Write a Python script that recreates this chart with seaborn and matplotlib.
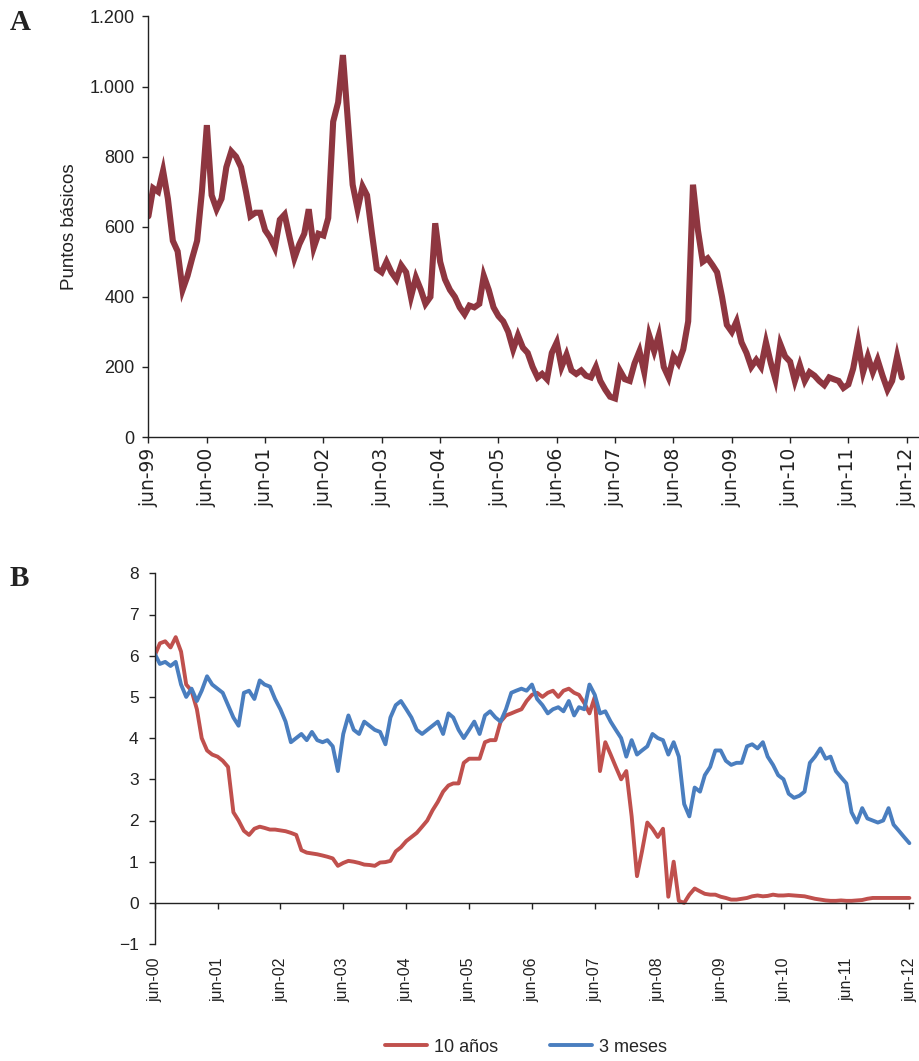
import matplotlib
matplotlib.use("Agg")
import matplotlib.pyplot as plt
import numpy as np
import pandas as pd
import seaborn as sns

# ---------------- Panel A: diferencial en puntos básicos (mensual, jun-99 a may-12)
inicio_a = "1999-06-01"
diferencial_pb = [
    630, 710, 700, 760, 680, 560, 530, 420, 460, 510, 560, 700,
    890, 690, 650, 680, 770, 815, 800, 770, 700, 630, 640, 640,
    590, 570, 540, 620, 635, 570, 510, 550, 580, 650, 540, 580,
    575, 625, 900, 955, 1090, 900, 720, 650, 715, 690, 580, 480,
    470, 500, 470, 450, 490, 470, 400, 455, 420, 380, 400, 610,
    500, 450, 420, 400, 370, 350, 375, 370, 380, 460, 420, 370,
    345, 330, 300, 250, 290, 255, 240, 200, 170, 180, 165, 240,
    270, 200, 235, 190, 180, 190, 175, 170, 200, 160, 135, 115,
    110, 190, 165, 160, 210, 245, 185, 290, 245, 290, 200, 170,
    230, 210, 250, 330, 720, 590, 500, 510, 490, 470, 400, 320,
    300, 330, 270, 240, 200, 220, 200, 270, 210, 165, 265, 230,
    215, 160, 205, 160, 185, 175, 160, 148, 170, 165, 160, 140,
    150, 195, 270, 185, 230, 185, 220, 175, 135, 160, 230, 170,
]
anios_a = list(range(1999, 2013))

# ---------------- Panel B: tasas en % (mensual, jun-00 a jun-12)
inicio_b = "2000-06-01"
tasa_10_anios = [
    6.0, 6.3, 6.35, 6.2, 6.45, 6.1, 5.3, 5.15, 4.7, 4.0, 3.7, 3.6,
    3.55, 3.45, 3.3, 2.2, 2.0, 1.75, 1.65, 1.8, 1.85, 1.82, 1.78, 1.78,
    1.76, 1.74, 1.7, 1.65, 1.28, 1.22, 1.2, 1.18, 1.15, 1.12, 1.08, 0.9,
    0.97, 1.02, 1.0, 0.97, 0.93, 0.92, 0.9, 0.98, 0.99, 1.02, 1.25, 1.35,
    1.5, 1.6, 1.7, 1.85, 2.0, 2.25, 2.45, 2.7, 2.85, 2.9, 2.9, 3.4,
    3.5, 3.5, 3.5, 3.9, 3.95, 3.95, 4.4, 4.55, 4.6, 4.65, 4.7, 4.9,
    5.05, 5.1, 5.0, 5.1, 5.15, 5.0, 5.15, 5.2, 5.1, 5.05, 4.85, 4.6,
    5.0, 3.2, 3.9, 3.6, 3.3, 3.0, 3.2, 2.1, 0.65, 1.25, 1.95, 1.8,
    1.6, 1.8, 0.15, 1.0, 0.05, 0.0, 0.2, 0.35, 0.28, 0.22, 0.2, 0.2,
    0.15, 0.12, 0.08, 0.08, 0.1, 0.12, 0.16, 0.18, 0.16, 0.17, 0.2, 0.18,
    0.18, 0.19, 0.18, 0.17, 0.16, 0.13, 0.1, 0.08, 0.06, 0.05, 0.05, 0.06,
    0.05, 0.05, 0.06, 0.07, 0.1, 0.12, 0.12, 0.12, 0.12, 0.12, 0.12, 0.12,
    0.12,
]
tasa_3_meses = [
    6.05, 5.8, 5.85, 5.75, 5.85, 5.3, 5.0, 5.2, 4.9, 5.15, 5.5, 5.3,
    5.2, 5.1, 4.8, 4.5, 4.3, 5.1, 5.15, 4.95, 5.4, 5.3, 5.25, 4.95,
    4.7, 4.4, 3.9, 4.0, 4.1, 3.95, 4.15, 3.95, 3.9, 3.95, 3.8, 3.2,
    4.1, 4.55, 4.2, 4.1, 4.4, 4.3, 4.2, 4.15, 3.85, 4.5, 4.8, 4.9,
    4.7, 4.5, 4.2, 4.1, 4.2, 4.3, 4.4, 4.1, 4.6, 4.5, 4.2, 4.0,
    4.2, 4.4, 4.1, 4.55, 4.65, 4.5, 4.4, 4.7, 5.1, 5.15, 5.2, 5.15,
    5.3, 4.95, 4.8, 4.6, 4.7, 4.75, 4.65, 4.9, 4.55, 4.75, 4.7, 5.3,
    5.05, 4.6, 4.65, 4.4, 4.2, 4.0, 3.55, 3.95, 3.6, 3.7, 3.8, 4.1,
    4.0, 3.95, 3.6, 3.9, 3.55, 2.4, 2.1, 2.8, 2.7, 3.1, 3.3, 3.7,
    3.7, 3.45, 3.35, 3.4, 3.4, 3.8, 3.85, 3.75, 3.9, 3.55, 3.35, 3.1,
    3.0, 2.65, 2.55, 2.6, 2.7, 3.4, 3.55, 3.75, 3.5, 3.55, 3.2, 3.05,
    2.9, 2.2, 1.95, 2.3, 2.05, 2.0, 1.95, 2.0, 2.3, 1.9, 1.75, 1.6,
    1.45,
]
anios_b = list(range(2000, 2013))
series_b = ["10 años", "3 meses"]
colores_b = ["#C0504D", "#4A7EBF"]

# ---------------- estilo
sns.set_theme(style="white")
plt.rcParams["font.family"] = ["Liberation Sans", "DejaVu Sans"]
plt.rcParams["axes.edgecolor"] = "#222222"
plt.rcParams["axes.linewidth"] = 1.0

W, H = 920, 1061
fig = plt.figure(figsize=(W / 100, H / 100), dpi=100)

def frac(x0, y0, x1, y1):
    return [x0 / W, 1 - y1 / H, (x1 - x0) / W, (y1 - y0) / H]

ax_a = fig.add_axes(frac(148.4, 16.5, 918, 437))
ax_b = fig.add_axes(frac(154.7, 573.3, 913, 944.1))

# ---------------- Panel A
df_a = pd.DataFrame({
    "fecha": pd.date_range(inicio_a, periods=len(diferencial_pb), freq="MS"),
    "pb": diferencial_pb,
})
sns.lineplot(data=df_a, x="fecha", y="pb", ax=ax_a, color="#8E3640",
             linewidth=4.4, solid_joinstyle="miter")
ax_a.set_ylim(0, 1200)
ax_a.set_yticks(range(0, 1201, 200))
ax_a.set_yticklabels([f"{v:,}".replace(",", ".") for v in range(0, 1201, 200)])
ticks_a = [pd.Timestamp(f"{y}-06-01") for y in anios_a]
ax_a.set_xticks(ticks_a)
ax_a.set_xticklabels([f"jun-{y % 100:02d}" for y in anios_a], rotation=90,
                     fontsize=13.5, family="DejaVu Sans")
ax_a.set_xlim(pd.Timestamp("1999-06-01"), pd.Timestamp("2012-08-10"))
ax_a.set_xlabel("")
ax_a.set_ylabel("")
ax_a.tick_params(axis="y", labelsize=13, length=4, width=1, pad=6,
                 direction="out", left=True, colors="#222222")
ax_a.tick_params(axis="x", length=4.5, width=1, pad=3, direction="out",
                 bottom=True, colors="#222222")
sns.despine(ax=ax_a)
fig.text(70 / W, 1 - 227 / H, "Puntos básicos", rotation=90, ha="center",
         va="center", fontsize=13.5, color="#222222")

# ---------------- Panel B
fechas_b = pd.date_range(inicio_b, periods=len(tasa_10_anios), freq="MS")
df_b = pd.DataFrame({"fecha": fechas_b, series_b[0]: tasa_10_anios,
                     series_b[1]: tasa_3_meses})
df_b = df_b.melt(id_vars="fecha", var_name="serie", value_name="tasa")
sns.lineplot(data=df_b, x="fecha", y="tasa", hue="serie", hue_order=series_b,
             palette=dict(zip(series_b, colores_b)), linewidth=2.8, ax=ax_b)
sns.despine(ax=ax_b)
# el eje horizontal cruza en y = 0
ax_b.spines["bottom"].set_position(("data", 0))
ax_b.set_ylim(-1, 8)
ax_b.set_yticks(range(-1, 9))
ax_b.set_yticklabels(["\u22121"] + [str(v) for v in range(0, 9)])
ticks_b = [pd.Timestamp(f"{y}-06-01") for y in anios_b]
ax_b.set_xticks(ticks_b)
ax_b.set_xticklabels([f"jun-{y % 100:02d}" for y in anios_b])
ax_b.set_xlim(pd.Timestamp("2000-06-01"), pd.Timestamp("2012-06-22"))
ax_b.set_xlabel("")
ax_b.set_ylabel("")
ax_b.tick_params(axis="y", labelsize=12.5, length=4.5, width=1, pad=7,
                 direction="out", left=True, colors="#222222")
ax_b.tick_params(axis="x", labelsize=11.5, labelrotation=90, length=4.5,
                 width=1, pad=35, direction="out", bottom=True,
                 colors="#222222")
sns.move_legend(ax_b, "center", bbox_to_anchor=(526 / W, 1 - 1047 / H),
                bbox_transform=fig.transFigure, ncol=2, frameon=False,
                title=None, fontsize=13, handlelength=2.3, handletextpad=0.4,
                columnspacing=2.9)

# ---------------- letras de panel
for letra, yy in (("A", 23), ("B", 579)):
    fig.text(10 / W, 1 - yy / H, letra, ha="left", va="center",
             fontsize=21, fontweight="bold", family="Liberation Serif",
             color="#222222")

fig.savefig("out.png", dpi=100)
